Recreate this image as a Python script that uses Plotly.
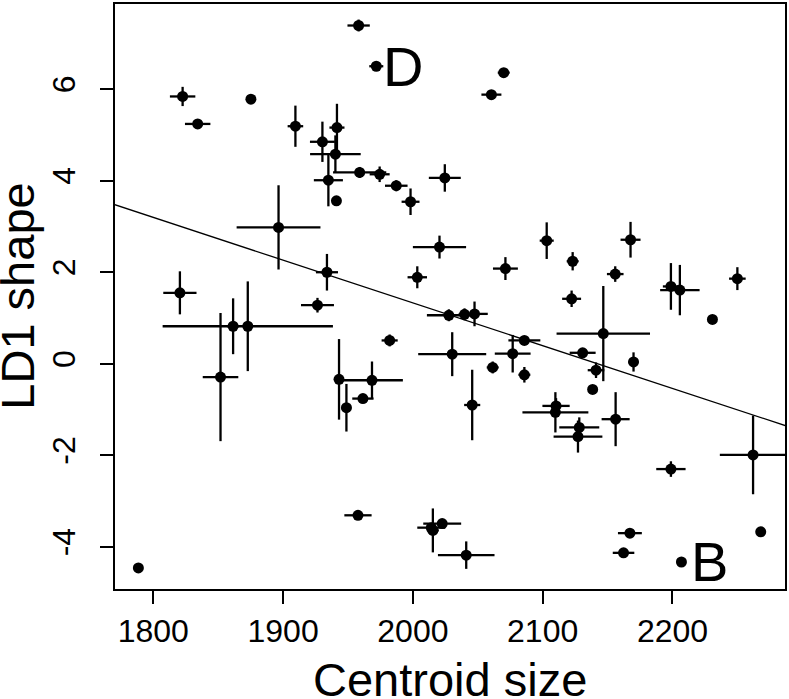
import plotly.graph_objects as go

# Centroid size (x), LD1 shape (y), with symmetric error half-widths
centroid = [1958.2, 1971.8, 1822.6, 1834.2, 1875.2, 1909.5, 1941.5, 1930.3, 1940.3, 1959.0,
            1974.4, 1987.2, 1998.2, 1934.9, 1941.1, 2024.6, 1896.5, 1933.8, 1926.5, 1820.5,
            2020.5, 2003.4, 2027.7, 2070.0, 2060.5, 2103.1, 2123.1, 2167.7, 2155.9, 2071.3,
            2122.3, 2198.8, 2205.7, 2250.0, 2230.8, 2146.7, 2039.8, 2047.5, 2030.3, 2085.9,
            2076.9, 2061.5, 2085.9, 2130.8, 2141.1, 2170.0, 2138.5, 2045.7, 2110.3, 2109.8,
            2128.2, 2127.2, 2156.2, 2262.1, 2198.8, 2268.0, 2167.2, 2162.3, 2206.9, 2041.1,
            1788.5, 1851.8, 1861.5, 1872.8, 1943.1, 1968.5, 1961.5, 1948.8, 1982.1, 1957.7,
            2015.4, 2022.6, 2014.2]
ld1 = [7.39, 6.50, 5.84, 5.24, 5.78, 5.19, 5.16, 4.85, 4.58, 4.18,
       4.14, 3.89, 3.54, 4.01, 3.56, 4.06, 2.98, 2.00, 1.28, 1.55,
       2.55, 1.89, 1.06, 6.36, 5.88, 2.69, 2.24, 2.71, 1.96, 2.08,
       1.42, 1.69, 1.61, 1.86, 0.97, 0.66, 1.08, 1.09, 0.21, 0.51,
       0.22, -0.08, -0.24, 0.24, -0.14, 0.04, -0.56, -0.90, -0.92, -1.06,
       -1.39, -1.59, -1.21, -1.99, -2.30, -3.67, -3.70, -4.13, -4.33, -4.18,
       -4.46, -0.29, 0.82, 0.82, -0.34, -0.36, -0.76, -0.96, 0.51, -3.31,
       -3.64, -3.49, -3.58]
centroid_err = [8.6, 5.4, 9.8, 9.8, 0.0, 6.0, 5.8, 9.6, 19.5, 20.5,
                7.7, 8.7, 6.9, 11.2, 0.0, 12.3, 32.3, 8.5, 12.7, 12.8,
                20.5, 7.5, 16.9, 4.6, 7.7, 5.4, 4.6, 7.7, 6.4, 9.6,
                7.3, 6.2, 15.2, 6.4, 0.0, 36.0, 4.6, 10.2, 26.2, 12.3,
                13.8, 4.6, 4.6, 10.0, 6.4, 3.8, 0.0, 6.2, 10.5, 25.4,
                15.4, 18.8, 10.8, 25.6, 11.3, 0.0, 9.2, 8.3, 0.0, 21.8,
                0.0, 13.7, 4.6, 65.6, 3.8, 23.8, 8.2, 3.8, 6.2, 10.5,
                4.6, 14.6, 10.8]
ld1_err = [0.13, 0.0, 0.21, 0.10, 0.0, 0.45, 0.52, 0.44, 0.41, 0.12,
           0.17, 0.12, 0.29, 0.57, 0.0, 0.30, 0.92, 0.40, 0.16, 0.47,
           0.25, 0.24, 0.13, 0.10, 0.0, 0.40, 0.20, 0.39, 0.17, 0.25,
           0.18, 0.51, 0.55, 0.25, 0.0, 1.04, 0.13, 0.27, 0.48, 0.10,
           0.41, 0.13, 0.17, 0.10, 0.17, 0.21, 0.0, 0.77, 0.17, 0.44,
           0.22, 0.35, 0.59, 0.86, 0.17, 0.0, 0.10, 0.10, 0.0, 0.30,
           0.0, 1.40, 0.61, 0.98, 0.88, 0.41, 0.10, 0.52, 0.13, 0.10,
           0.48, 0.10, 0.10]

# Regression line
intercept = 20.01
slope = -0.00934

# Labelled specimens
label_text = ["D", "B"]
label_x = [1992.1, 2228.8]
label_y = [6.50, -4.31]

x_ticks = [1800, 1900, 2000, 2100, 2200]
y_ticks = [-4, -2, 0, 2, 4, 6]
x_range = [1770.5, 2286.7]
y_range = [-4.92, 7.86]

FONT = "Liberation Sans, Arial, sans-serif"

fig = go.Figure()

fig.add_trace(go.Scatter(
    x=[x_range[0] - 50, x_range[1] + 50],
    y=[intercept + slope * (x_range[0] - 50), intercept + slope * (x_range[1] + 50)],
    mode="lines", line=dict(color="black", width=1.3), hoverinfo="skip"))

fig.add_trace(go.Scatter(
    x=centroid, y=ld1, mode="markers",
    marker=dict(color="black", size=11),
    error_x=dict(type="data", array=centroid_err, symmetric=True, color="black", thickness=2.3, width=0),
    error_y=dict(type="data", array=ld1_err, symmetric=True, color="black", thickness=2.3, width=0)))

for t, xv, yv in zip(label_text, label_x, label_y):
    fig.add_annotation(x=xv, y=yv, text=t, showarrow=False, xanchor="center", yanchor="middle",
                       font=dict(family=FONT, size=56, color="black"))

fig.add_annotation(xref="paper", yref="paper", x=0.5, y=-0.155, text="Centroid size",
                   showarrow=False, xanchor="center", yanchor="middle",
                   font=dict(family=FONT, size=47, color="black"))
fig.add_annotation(xref="paper", yref="paper", x=-0.146, y=0.5, text="LD1 shape", textangle=-90,
                   showarrow=False, xanchor="center", yanchor="middle",
                   font=dict(family=FONT, size=47, color="black"))

axis_common = dict(showgrid=False, zeroline=False, showline=True, mirror=True, linecolor="black",
                   linewidth=1.5, ticks="outside", ticklen=13, tickwidth=1.5, tickcolor="black",
                   tickfont=dict(family=FONT, size=32, color="black"))
fig.update_xaxes(range=x_range, tickvals=x_ticks, ticktext=[str(v) for v in x_ticks], **axis_common)
fig.update_yaxes(range=y_range, tickvals=y_ticks, ticktext=[str(v) for v in y_ticks], tickangle=-90,
                 ticklabelstandoff=12, **axis_common)

fig.update_layout(width=789, height=699, margin=dict(l=115, r=3, t=2, b=110),
                  paper_bgcolor="white", plot_bgcolor="white", showlegend=False,
                  font=dict(family=FONT, color="black"))

fig.write_html("out.html", config={"displayModeBar": False},
               post_script="document.body.style.margin='0';document.body.style.padding='0';")
